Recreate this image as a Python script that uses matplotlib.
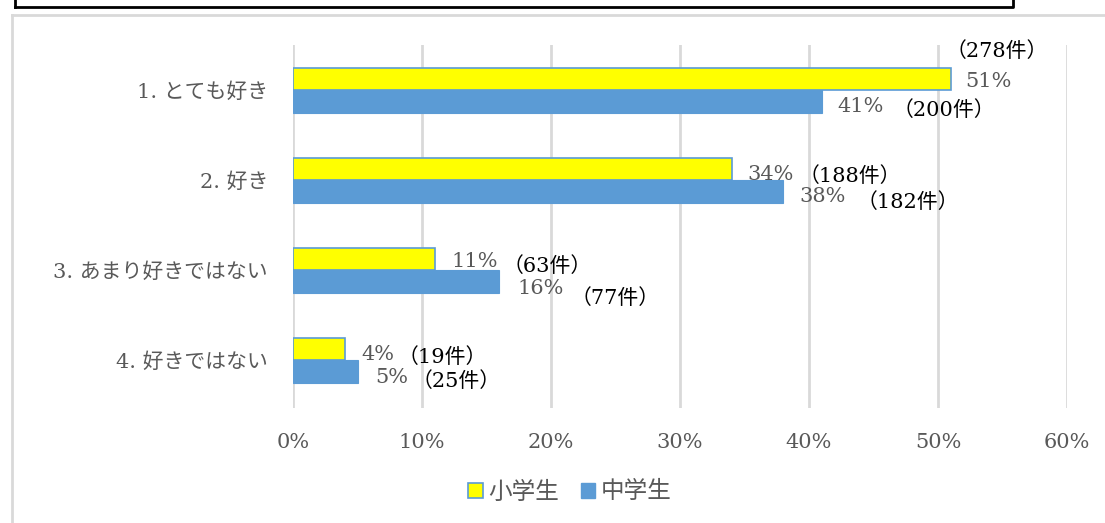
import matplotlib
matplotlib.use("Agg")
import matplotlib.pyplot as plt
from matplotlib.lines import Line2D
from matplotlib.patches import Patch

plt.rcParams["font.family"] = ["DejaVu Serif", "Noto Sans CJK JP", "DejaVu Sans"]

categories = ["1. とても好き", "2. 好き", "3. あまり好きではない", "4. 好きではない"]
elem_pct = [51, 34, 11, 4]
middle_pct = [41, 38, 16, 5]
elem_count = [278, 188, 63, 19]
middle_count = [200, 182, 77, 25]
series_names = ["小学生", "中学生"]
xticks = [0, 10, 20, 30, 40, 50, 60]

# label offsets in points: (pct dx, pct dy, count dx, count dy), dy positive = down
elem_offsets = [(10, 2, -4, -20), (11, 4, 48, 5), (12, 2, 49, 5), (12, 4, 38, 6)]
middle_offsets = [(11, 4, 51, 6), (12, 4, 53, 8), (13, 5, 51, 12), (13, 4, 39, 7)]

YELLOW = "#FFFF00"
BLUE = "#5B9BD5"
GRAY_TXT = "#595959"
GRID = "#D9D9D9"

W, H = 1105, 523
fig = plt.figure(figsize=(W / 100, H / 100), dpi=100, facecolor="white")
ax = fig.add_axes([293 / W, 1 - 408 / H, (1067 - 293) / W, (408 - 45) / H])

y = list(range(len(categories)))
bh = 0.25
y_elem = [v - bh / 2 for v in y]
y_mid = [v + bh / 2 for v in y]
ax.barh(y_elem, elem_pct, height=bh, color=YELLOW, edgecolor=BLUE, linewidth=1.2, zorder=3)
ax.barh(y_mid, middle_pct, height=bh, color=BLUE, edgecolor=BLUE, linewidth=0.8, zorder=3)

ax.set_xlim(0, 60)
ax.set_ylim(3.53, -0.5)
ax.set_xticks(xticks)
ax.set_xticklabels([f"{t}%" for t in xticks], fontsize=15, color=GRAY_TXT)
ax.set_yticks(y)
ax.set_yticklabels(categories, fontsize=15, color=GRAY_TXT)
ax.tick_params(axis="y", length=0, pad=18)
ax.tick_params(axis="x", length=0, pad=18)
ax.grid(axis="x", color=GRID, linewidth=2, zorder=0)
for s in ax.spines.values():
    s.set_visible(False)

for yy, v, c, off in zip(y_elem, elem_pct, elem_count, elem_offsets):
    ax.annotate(f"{v}%", (v, yy), xytext=(off[0], -off[1]), textcoords="offset points",
                ha="left", va="center", fontsize=15, color=GRAY_TXT)
    ax.annotate(f"（{c}件）", (v, yy), xytext=(off[2], -off[3]), textcoords="offset points",
                ha="left", va="center", fontsize=15, color="black")
for yy, v, c, off in zip(y_mid, middle_pct, middle_count, middle_offsets):
    ax.annotate(f"{v}%", (v, yy), xytext=(off[0], -off[1]), textcoords="offset points",
                ha="left", va="center", fontsize=15, color=GRAY_TXT)
    ax.annotate(f"（{c}件）", (v, yy), xytext=(off[2], -off[3]), textcoords="offset points",
                ha="left", va="center", fontsize=15, color="black")

handles = [Patch(facecolor=YELLOW, edgecolor=BLUE, linewidth=1.2),
           Patch(facecolor=BLUE, edgecolor=BLUE)]
fig.legend(handles, series_names, loc="center", bbox_to_anchor=(570 / W, 1 - 492 / H),
           ncol=2, frameon=False, fontsize=17, handlelength=0.6, handleheight=0.6,
           handletextpad=0.25, columnspacing=0.9, labelcolor=GRAY_TXT)

# chart area border (light gray) and the cut-off black box above
fig.add_artist(Line2D([12 / W, 1], [1 - 15 / H] * 2, color=GRID, linewidth=2, transform=fig.transFigure))
fig.add_artist(Line2D([12 / W] * 2, [0, 1 - 15 / H], color=GRID, linewidth=2, transform=fig.transFigure))
fig.add_artist(Line2D([15 / W, 1013 / W, 1013 / W], [1 - 7 / H, 1 - 7 / H, 1],
                      color="black", linewidth=2, transform=fig.transFigure))
fig.add_artist(Line2D([15 / W, 15 / W], [1 - 7 / H, 1], color="black", linewidth=2,
                      transform=fig.transFigure))

fig.savefig("out.png", dpi=100)
